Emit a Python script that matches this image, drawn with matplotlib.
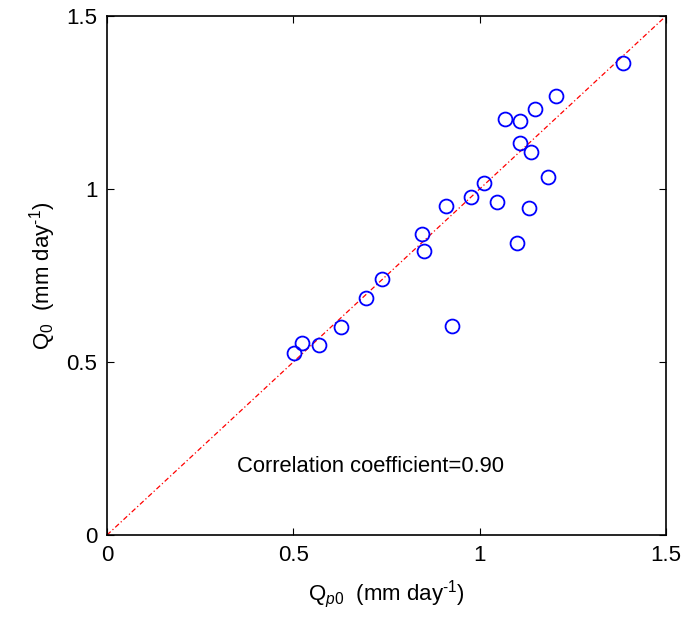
import matplotlib
matplotlib.use("Agg")
import matplotlib.pyplot as plt

plt.rcParams['font.family'] = ['Liberation Sans', 'DejaVu Sans']
plt.rcParams['mathtext.fontset'] = 'custom'
plt.rcParams['mathtext.rm'] = 'Liberation Sans'
plt.rcParams['mathtext.it'] = 'Liberation Sans:italic'

# Q_p0 (x) and Q_0 (y), mm/day
qp0 = [1.384, 1.205, 1.149, 1.067, 1.108, 1.108, 1.137, 1.184, 1.012, 0.978,
       1.046, 1.133, 0.911, 0.845, 0.850, 1.099, 0.737, 0.695, 0.628, 0.927,
       0.569, 0.524, 0.503]
q0 = [1.363, 1.269, 1.232, 1.201, 1.197, 1.134, 1.107, 1.036, 1.017, 0.978,
      0.963, 0.946, 0.951, 0.869, 0.820, 0.843, 0.739, 0.685, 0.600, 0.604,
      0.549, 0.555, 0.527]
lims = [0, 1.5]
ticks = [0, 0.5, 1, 1.5]
ticklabels = ['0', '0.5', '1', '1.5']

fig = plt.figure(figsize=(6.85, 6.17), dpi=100)
ax = fig.add_axes([107/685, 82/617, 559/685, 519/617])

ax.plot(lims, lims, color='red', linestyle='-.', linewidth=0.9, dashes=(4, 2, 1, 2))
ax.plot(qp0, q0, 'o', markerfacecolor='none', markeredgecolor='blue',
        markersize=10, markeredgewidth=1.3)

ax.set_xlim(lims)
ax.set_ylim(lims)
ax.set_xticks(ticks)
ax.set_yticks(ticks)
ax.set_xticklabels(ticklabels)
ax.set_yticklabels(ticklabels)
ax.tick_params(direction='in', top=True, right=True, labelsize=16, length=5, pad=7)
for s in ax.spines.values():
    s.set_linewidth(1.2)

ax.set_xlabel(r'Q$_{\mathit{p0}}$  (mm day$^{\text{-1}}$)', fontsize=16, labelpad=9)
ax.set_ylabel(r'Q$_{\mathit{0}}$  (mm day$^{\text{-1}}$)', fontsize=16, labelpad=6)

ax.text(0.349, 0.182, 'Correlation coefficient=0.90', fontsize=15.8)

fig.savefig('out.png', dpi=100)
